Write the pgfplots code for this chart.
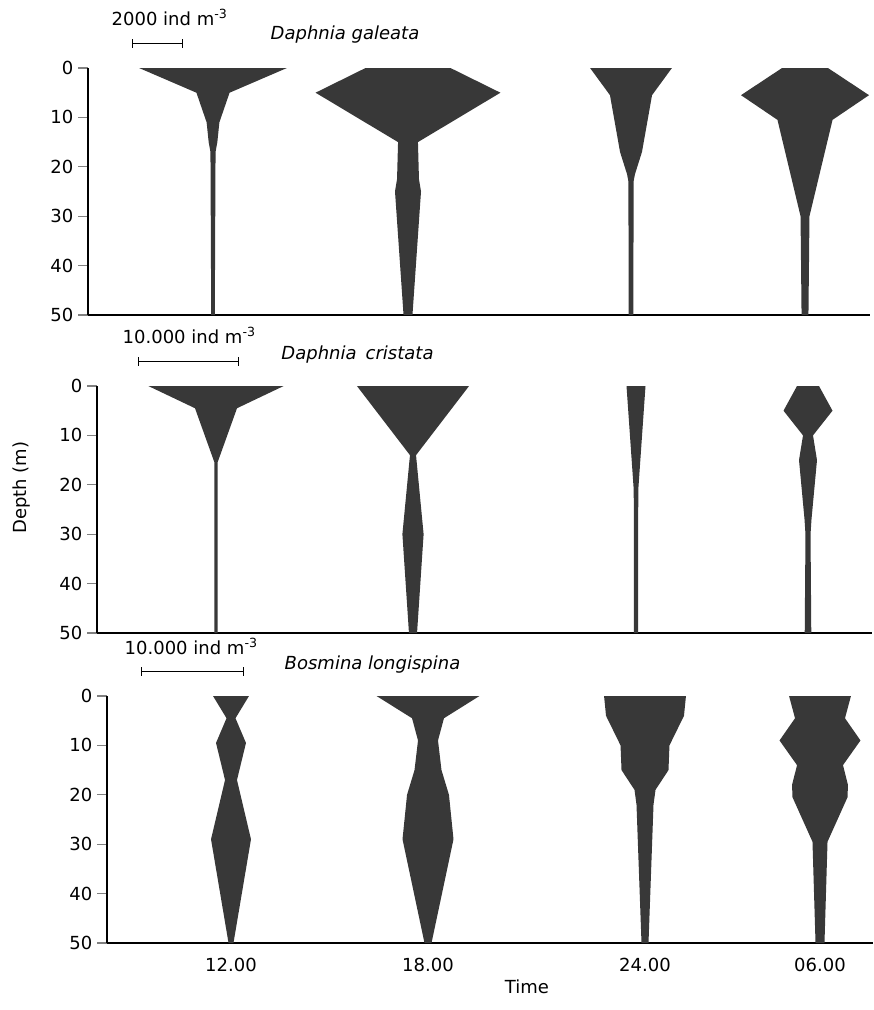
\documentclass[border=0pt]{standalone}
\usepackage{pgfplots}
\pgfplotsset{compat=1.18}
\usepackage{pgfplotstable}
\usepgfplotslibrary{fillbetween}
\usepackage{fontspec}
\setmainfont{DejaVu Sans}

\newcommand\lab{\fontsize{13.5}{16}\selectfont}

% ---------- Daphnia galeata (ind m^-3), depth d in m ----------
\pgfplotstableread{
d n
0 5800
5 1300
9.5 700
11 500
15 340
17 200
50 140
}\gaA
\pgfplotstableread{
d n
0 3330
5 7250
15 780
22.5 860
25 1020
50 350
}\gaB
\pgfplotstableread{
d n
0 3210
5.5 1650
17 860
21.5 310
23 200
50 190
}\gaC
\pgfplotstableread{
d n
0 1800
5.5 5020
10.5 2160
30 350
50 270
}\gaD
% ---------- Daphnia cristata ----------
\pgfplotstableread{
d n
0 13400
4.5 4160
15.5 300
50 300
}\crA
\pgfplotstableread{
d n
0 11100
14 600
30 2100
50 800
}\crB
\pgfplotstableread{
d n
0 1880
21 450
50 400
}\crC
\pgfplotstableread{
d n
0 2180
5 4850
10 990
15 1780
27 690
30 500
50 650
}\crD
% ---------- Bosmina longispina ----------
\pgfplotstableread{
d n
0 3490
4.5 870
9.5 2910
17 1160
29 3880
50 480
}\boA
\pgfplotstableread{
d n
0 9990
4.5 3100
9 1940
15 2620
20 4070
29 4950
50 680
}\boB
\pgfplotstableread{
d n
0 7950
4 7570
10 4750
15 4560
19 2040
22 1650
50 680
}\boC
\pgfplotstableread{
d n
0 6010
4.5 4850
9 7860
14 4460
18 5430
20.5 5340
29.5 1460
50 870
}\boD

% id, table, centre (x units), scale (x units per ind m^-3)
\newcommand\kite[4]{%
  \addplot[draw=none, forget plot, name path=#1l]
    table[x expr={#3-0.5*#4*\thisrow{n}}, y expr={-\thisrow{d}}] {#2};
  \addplot[draw=none, forget plot, name path=#1r]
    table[x expr={#3+0.5*#4*\thisrow{n}}, y expr={-\thisrow{d}}] {#2};
  \addplot[kitefill, forget plot] fill between[of=#1l and #1r, reverse=true];
}

\pgfplotsset{
  kitepanel/.style={
    scale only axis, height=185.25pt,
    xmin=0, ymin=-50, ymax=0,
    axis x line=bottom, axis y line=left,
    axis line style={-, line width=0.9pt},
    ytick={-50,-40,-30,-20,-10,0},
    yticklabels={50,40,30,20,10,0},
    tick align=outside, major tick length=7.5pt,
    ytick style={line width=0.9pt},
    xtick style={draw=none},
    tick label style={font=\lab},
    label style={font=\lab},
    clip=false, anchor=north west,
  },
  kitefill/.style={fill=black!78, draw=none},
}

\begin{document}
\begin{tikzpicture}

% Panel 1: Daphnia galeata
\begin{axis}[kitepanel, at={(66pt,-51pt)}, width=586.5pt, xmax=782, xtick=\empty]
  \kite{a1}{\gaA}{125}{0.0255}
  \kite{a2}{\gaB}{320}{0.0255}
  \kite{a3}{\gaC}{543}{0.0255}
  \kite{a4}{\gaD}{717}{0.0255}
  \draw[|-|, line width=0.7pt] (axis cs:44,4.9) -- (axis cs:95,4.9);
  \node[anchor=west, font=\lab] at (axis cs:19,10.3) {2000 ind m\textsuperscript{-3}};
  \node[font=\lab\itshape] at (axis cs:257,6.8) {Daphnia galeata};
\end{axis}

% Panel 2: Daphnia cristata
\begin{axis}[kitepanel, at={(72.75pt,-289.5pt)}, width=581.25pt, xmax=775, xtick=\empty,
  ylabel={Depth (m)}, ylabel style={at={(axis cs:-75,-20.6)}, anchor=center}]
  \kite{b1}{\crA}{119}{0.0101}
  \kite{b2}{\crB}{316}{0.0101}
  \kite{b3}{\crC}{539}{0.0101}
  \kite{b4}{\crD}{711}{0.0101}
  \draw[|-|, line width=0.7pt] (axis cs:41,4.9) -- (axis cs:142,4.9);
  \node[anchor=west, font=\lab] at (axis cs:21,10.3) {10.000 ind m\textsuperscript{-3}};
  \node[font=\lab\itshape] at (axis cs:260.5,6.3) {Daphnia\enspace cristata};
\end{axis}

% Panel 3: Bosmina longispina
\begin{axis}[kitepanel, at={(80.25pt,-522pt)}, width=574.5pt, xmax=766,
  xtick={124,321,538,713}, xticklabels={12.00,18.00,24.00,06.00},
  xlabel={Time}, xlabel style={at={(axis cs:420,-58.9)}, anchor=center}]
  \kite{c1}{\boA}{124}{0.0103}
  \kite{c2}{\boB}{321}{0.0103}
  \kite{c3}{\boC}{538}{0.0103}
  \kite{c4}{\boD}{713}{0.0103}
  \draw[|-|, line width=0.7pt] (axis cs:34,4.9) -- (axis cs:137,4.9);
  \node[anchor=west, font=\lab] at (axis cs:13,10.0) {10.000 ind m\textsuperscript{-3}};
  \node[font=\lab\itshape] at (axis cs:265.5,6.3) {Bosmina longispina};
\end{axis}

\path (0,0) rectangle (655.5pt,-757.5pt);
\end{tikzpicture}
\end{document}
